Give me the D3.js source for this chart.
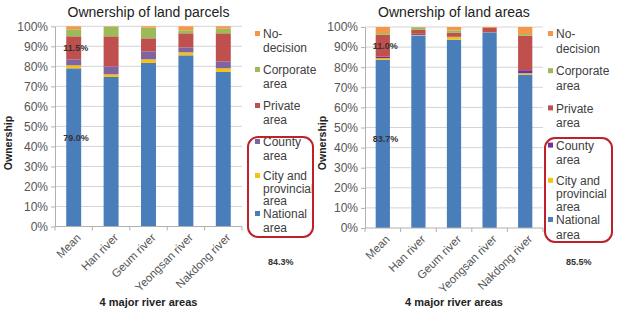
<!DOCTYPE html>
<html><head><meta charset="utf-8">
<script src="https://cdn.jsdelivr.net/npm/d3@7"></script>
<style>body{margin:0;background:#fff}svg{display:block;font-family:"Liberation Sans",Arial,sans-serif}</style>
</head><body><svg id="c" width="618" height="309"></svg>
<script>
const categories = ["Mean","Han river","Geum river","Yeongsan river","Nakdong river"];
const seriesNames = ["National area","City and provincial area","County area","Private area","Corporate area","No-decision"];
const legendLines = [["National","area"],["City and","provincial","area"],["County","area"],["Private","area"],["Corporate","area"],["No-","decision"]];
const yTicks = [0,10,20,30,40,50,60,70,80,90,100];

const parcelNational   = [79.0, 74.7, 81.7, 85.5, 77.2];
const parcelCity       = [1.5, 1.3, 1.8, 1.5, 1.8];
const parcelCounty     = [3.0, 4.0, 4.0, 2.5, 3.5];
const parcelPrivate    = [11.5, 15.0, 6.5, 7.0, 14.0];
const parcelCorporate  = [3.5, 4.8, 5.3, 1.5, 2.3];
const parcelNoDecision = [1.5, 0.2, 0.7, 2.0, 1.2];

const areaNational   = [83.7, 95.8, 93.7, 97.3, 76.3];
const areaCity       = [0.8, 0.3, 1.3, 0.1, 0.7];
const areaCounty     = [0.7, 0.5, 0.3, 0.1, 1.5];
const areaPrivate    = [11.0, 2.0, 1.8, 2.0, 17.2];
const areaCorporate  = [0.8, 1.2, 1.2, 0.0, 0.8];
const areaNoDecision = [3.0, 0.2, 1.7, 0.5, 3.5];

const parcelLabels = {national:"79.0%", priv:"11.5%", total:"84.3%"};
const areaLabels = {national:"83.7%", priv:"11.0%", total:"85.5%"};

const colorsLeft  = ["#4A7EBB","#F5C211","#8064A2","#C0504D","#9BBB59","#F79646"];
const colorsRight = ["#4A7EBB","#F5C211","#7030A0","#C0504D","#9BBB59","#F79646"];

const svg = d3.select("#c");

function drawChart(cfg){
  const g = svg.append("g");
  const series = cfg.series;
  const x = d3.scaleBand().domain(categories).range([cfg.x0, cfg.x1]).paddingInner(0.6).paddingOuter(0.3);
  const y = d3.scaleLinear().domain([0,100]).range([cfg.yb, cfg.yt]);

  g.selectAll(".grid").data(yTicks.slice(1)).join("line")
    .attr("x1", cfg.x0).attr("x2", cfg.x1)
    .attr("y1", d=>y(d)).attr("y2", d=>y(d))
    .attr("stroke","#d4d4d4").attr("stroke-width",1);

  const ya = d3.axisLeft(y).tickValues(yTicks).tickFormat(d=>d+"%").tickSize(4).tickSizeOuter(0);
  const yg = g.append("g").attr("transform",`translate(${cfg.x0},0)`).call(ya);
  yg.select(".domain").attr("stroke","#b0b0b0");
  yg.selectAll(".tick line").attr("stroke","#b0b0b0");
  yg.selectAll(".tick text").attr("font-size",12).attr("fill","#555").attr("font-family","Liberation Sans, Arial, sans-serif").attr("x",-7);

  const rows = categories.map((c,i)=>{const o={cat:c}; series.forEach((s,j)=>o["s"+j]=s[i]); return o;});
  const stack = d3.stack().keys(series.map((s,j)=>"s"+j))(rows);
  stack.forEach((layer,j)=>{
    g.append("g").attr("fill",cfg.colors[j]).selectAll("rect").data(layer).join("rect")
      .attr("x", d=>x(d.data.cat)).attr("width", x.bandwidth())
      .attr("y", d=>y(d[1])).attr("height", d=>Math.max(0,y(d[0])-y(d[1])));
  });

  const step = x.step();
  const xb = g.append("g");
  xb.append("line").attr("x1",cfg.x0).attr("x2",cfg.x1).attr("y1",y(0)).attr("y2",y(0)).attr("stroke","#b0b0b0");
  xb.selectAll(".xt").data(d3.range(categories.length+1)).join("line")
    .attr("x1",i=>cfg.x0+i*step).attr("x2",i=>cfg.x0+i*step)
    .attr("y1",y(0)).attr("y2",y(0)+4).attr("stroke","#b0b0b0");
  xb.selectAll(".xl").data(categories).join("text")
    .attr("transform",d=>`translate(${x(d)+x.bandwidth()/2+5},${y(0)+9}) rotate(-45)`)
    .attr("text-anchor","end").attr("font-size",11.5).attr("fill","#555").attr("dy","0.35em").text(d=>d);

  g.append("text").attr("x",(cfg.x0+cfg.x1)/2).attr("y",17).attr("text-anchor","middle")
    .attr("font-size",14).attr("fill","#222").text(cfg.title);
  g.append("text").attr("x",(cfg.x0+cfg.x1)/2).attr("y",306).attr("text-anchor","middle")
    .attr("font-size",11).attr("font-weight","bold").attr("fill","#222").text("4 major river areas");
  g.append("text").attr("transform",`translate(${cfg.ylabX},143) rotate(-90)`).attr("text-anchor","middle")
    .attr("dy","0.35em").attr("font-size",10.5).attr("font-weight","bold").attr("fill","#222").text("Ownership");

  const mean = categories[0];
  g.append("text").attr("x",x(mean)-3).attr("y",y(44.5)).attr("dy","0.35em")
    .attr("font-size",9).attr("font-weight","bold").attr("fill","#333").text(cfg.labels.national);
  const privMid = series[0][0]+series[1][0]+series[2][0]+series[3][0]/2;
  g.append("text").attr("x",x(mean)-3).attr("y",y(privMid)).attr("dy","0.35em")
    .attr("font-size",9).attr("font-weight","bold").attr("fill","#333").text(cfg.labels.priv);
  g.append("text").attr("x",cfg.totalX).attr("y",262).attr("dy","0.35em")
    .attr("font-size",9).attr("font-weight","bold").attr("fill","#333").text(cfg.labels.total);

  const lg = g.append("g");
  const order = [5,4,3,2,1,0];
  order.forEach((j,k)=>{
    const yy = cfg.legY0 + k*cfg.legStep;
    const lh = legendLines[j].length > 2 ? cfg.lineH - 1.5 : cfg.lineH;
    const y0 = legendLines[j].length > 2 ? yy - 2 : yy;
    lg.append("rect").attr("x",cfg.legX-8).attr("y",y0-3).attr("width",5).attr("height",5).attr("fill",cfg.colors[j]);
    legendLines[j].forEach((ln,m)=>{
      lg.append("text").attr("x",cfg.legX).attr("y",y0+m*lh).attr("dy","0.35em")
        .attr("font-size",12).attr("fill","#404040").text(ln);
    });
  });
  g.append("rect").attr("x",cfg.box[0]).attr("y",cfg.box[1]).attr("width",cfg.box[2]).attr("height",cfg.box[3])
    .attr("rx",10).attr("fill","none").attr("stroke","#C0202A").attr("stroke-width",2);
}

drawChart({
  title:"Ownership of land parcels",
  series:[parcelNational,parcelCity,parcelCounty,parcelPrivate,parcelCorporate,parcelNoDecision],
  colors:colorsLeft, labels:parcelLabels,
  x0:55, x1:242, yb:226.5, yt:26.3, ylabX:8, totalX:268,
  legX:263, legY0:34, legStep:36, lineH:14, box:[248,137,65,100]
});
drawChart({
  title:"Ownership of land areas",
  series:[areaNational,areaCity,areaCounty,areaPrivate,areaCorporate,areaNoDecision],
  colors:colorsRight, labels:areaLabels,
  x0:365, x1:543, yb:228, yt:27, ylabX:322, totalX:566,
  legX:556, legY0:34, legStep:37.2, lineH:14.5, box:[545,138,67,104]
});
</script></body></html>
